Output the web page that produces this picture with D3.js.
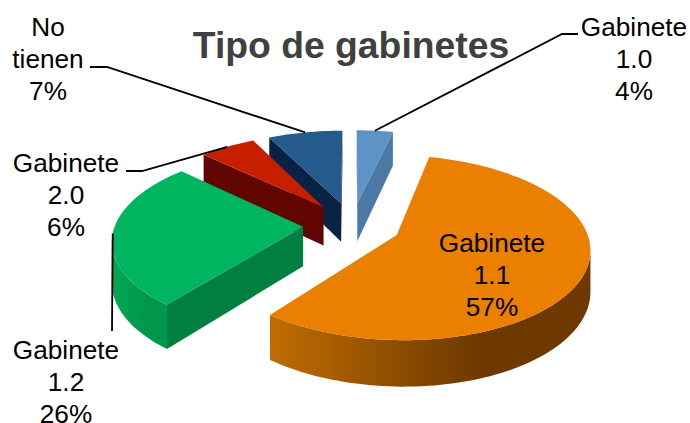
<!DOCTYPE html>
<html>
<head>
<meta charset="utf-8">
<title>Tipo de gabinetes</title>
<script src="https://cdn.jsdelivr.net/npm/d3@7"></script>
<style>
	html, body { margin: 0; padding: 0; background: #fff; }
	text { font-family: "Liberation Sans", Arial, sans-serif; fill: #000; }
</style>
</head>
<body>
<div id="chart-area"></div>
<script>
// Data (percent labels are these values rounded)
const categories = ["Gabinete 1.0", "Gabinete 1.1", "Gabinete 1.2", "Gabinete 2.0", "No tienen"];
const shares = [3.6, 57.0, 26.4, 5.6, 7.4];

const topColors = ["#5e93c8", "#ea7f00", "#00b55f", "#c81e00", "#255a8c"];
const faceColors = ["#4d79a6", "#7a3f00", "#008040", "#600500", "#092344"];
const rimLeft = ["#4d79a6", "#bf6d02", "#00a853", "#600500", "#092344"];
const rimRight = ["#4d79a6", "#6e3800", "#00964b", "#600500", "#092344"];

var width = 690,
	height = 423;

// 3D look: ground plane is projected with a simple perspective
let cx = 352, cy = 225;
let radiusX = 188, radiusY = 88;
let perspective = 0.135;
let explode = 0.26;
let depth = 39.5;

function project(X, Y, z) {
	let s = 1 / (1 + perspective * Y);
	return [cx + radiusX * X * s, cy - radiusY * Y * s + z * depth * s];
}

let pie = d3.pie().sort(null).value(function(d){ return d; });
let slices = pie(shares);

let svg = d3.select("#chart-area")
	.append("svg")
	.attr("width", width)
	.attr("height", height);

let defs = svg.append("defs");

function polyPath(points) {
	return d3.line()(points) + "Z";
}

// draw back to front
let drawOrder = [0, 4, 3, 2, 1];

drawOrder.forEach(function(i) {
	let s = slices[i];
	let mid = (s.startAngle + s.endAngle) / 2;
	let ox = explode * Math.sin(mid), oy = explode * Math.cos(mid);
	let n = Math.ceil((s.endAngle - s.startAngle) / 0.03);
	let ground = d3.range(n + 1).map(function(k){
		let a = s.startAngle + (s.endAngle - s.startAngle) * k / n;
		return [ox + Math.sin(a), oy + Math.cos(a)];
	});
	let g = svg.append("g").attr("class", "slice");

	// clockwise outline: a wall faces us only if it runs right to left on screen
	let facing = function(a, b) {
		return project(b[0], b[1], 0)[0] < project(a[0], a[1], 0)[0];
	};
	let wall = function(a, b, color) {
		if (!facing(a, b)) return;
		g.append("path")
			.attr("d", polyPath([a, b].map(function(p){ return project(p[0], p[1], 0); })
				.concat([b, a].map(function(p){ return project(p[0], p[1], 1); }))))
			.attr("fill", color);
	};
	let apex = [ox, oy];

	wall(apex, ground[0], faceColors[i]);
	wall(ground[n], apex, faceColors[i]);

	// outer edge, only the run of segments that faces us
	let run = ground.filter(function(p, k){
		return (k < n && facing(p, ground[k + 1])) || (k > 0 && facing(ground[k - 1], p));
	});
	if (run.length > 1) {
		let x0 = project(run[0][0], run[0][1], 0)[0];
		let x1 = project(run[run.length - 1][0], run[run.length - 1][1], 0)[0];
		let grad = defs.append("linearGradient")
			.attr("id", "rim" + i)
			.attr("gradientUnits", "userSpaceOnUse")
			.attr("x1", x0).attr("y1", 0)
			.attr("x2", x1).attr("y2", 0);
		grad.append("stop").attr("offset", 0.35).attr("stop-color", rimRight[i]);
		grad.append("stop").attr("offset", 1).attr("stop-color", rimLeft[i]);
		g.append("path")
			.attr("d", polyPath(run.map(function(p){ return project(p[0], p[1], 0); })
				.concat(run.slice().reverse().map(function(p){ return project(p[0], p[1], 1); }))))
			.attr("fill", "url(#rim" + i + ")");
	}

	let outline = [project(ox, oy, 0)].concat(ground.map(function(p){ return project(p[0], p[1], 0); }));
	g.append("path")
		.attr("d", polyPath(outline))
		.attr("fill", topColors[i]);
});

// Leader lines end on the middle of each slice's outer edge
function rimPoint(i) {
	let s = slices[i];
	let mid = (s.startAngle + s.endAngle) / 2;
	return project((1 + explode) * Math.sin(mid), (1 + explode) * Math.cos(mid), 0);
}

let leaders = [
	{ slice: 0, from: [[578, 34], [562, 34]] },
	{ slice: 4, from: [[90, 67], [107, 67]] },
	{ slice: 3, from: [[126, 171], [142, 171]] },
	{ slice: 2, from: [[112, 331]] }
];

leaders.forEach(function(l) {
	svg.append("path")
		.attr("d", d3.line()(l.from.concat([rimPoint(l.slice)])))
		.attr("fill", "none")
		.attr("stroke", "#000")
		.attr("stroke-width", 1.8);
});

// Labels
let fmt = function(v) { return Math.round(v) + "%"; };
let labels = [
	{ x: 634, y: 35.5, lines: ["Gabinete", "1.0", fmt(shares[0])] },
	{ x: 492, y: 252, lines: ["Gabinete", "1.1", fmt(shares[1])] },
	{ x: 66, y: 359, lines: ["Gabinete", "1.2", fmt(shares[2])] },
	{ x: 66, y: 172, lines: ["Gabinete", "2.0", fmt(shares[3])] },
	{ x: 48, y: 36, lines: ["No", "tienen", fmt(shares[4])] }
];

labels.forEach(function(l) {
	let t = svg.append("text")
		.attr("text-anchor", "middle")
		.style("font-size", "26.2px");
	l.lines.forEach(function(line, j) {
		t.append("tspan")
			.attr("x", l.x)
			.attr("y", l.y + j * 32)
			.text(line);
	});
});

svg.append("text")
	.attr("x", 351)
	.attr("y", 58)
	.attr("text-anchor", "middle")
	.style("font-size", "37.3px")
	.style("font-weight", "bold")
	.style("fill", "#404040")
	.text("Tipo de gabinetes");
</script>
</body>
</html>
